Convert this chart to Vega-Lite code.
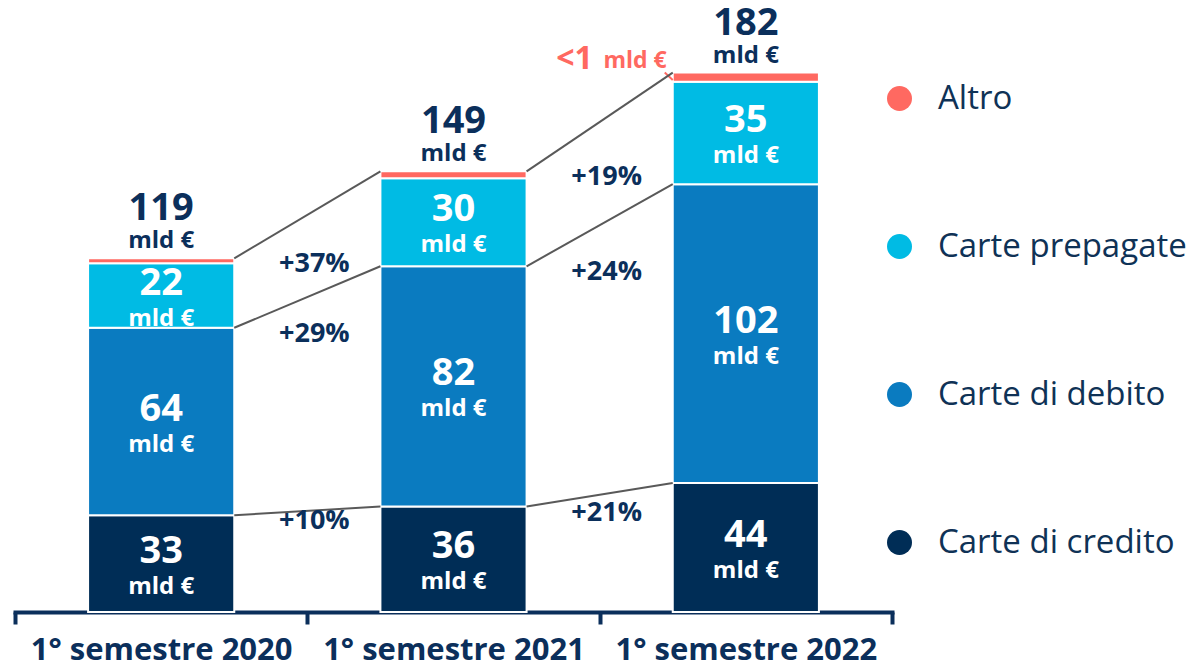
{
  "$schema": "https://vega.github.io/schema/vega-lite/v6.json",
  "width": 877,
  "height": 586,
  "autosize": {"type": "none"},
  "padding": {"left": 15, "top": 26, "right": 312, "bottom": 57},
  "background": "white",
  "config": {
    "view": {"stroke": null},
    "font": "Open Sans"
  },
  "datasets": {
    "main": [
      {"year": "1° semestre 2020", "cat": "Carte di credito", "v": 33, "ord": 1},
      {"year": "1° semestre 2020", "cat": "Carte di debito", "v": 64, "ord": 2},
      {"year": "1° semestre 2020", "cat": "Carte prepagate", "v": 22, "ord": 3},
      {"year": "1° semestre 2020", "cat": "Altro", "v": 1.7, "ord": 4},
      {"year": "1° semestre 2021", "cat": "Carte di credito", "v": 36, "ord": 1},
      {"year": "1° semestre 2021", "cat": "Carte di debito", "v": 82, "ord": 2},
      {"year": "1° semestre 2021", "cat": "Carte prepagate", "v": 30, "ord": 3},
      {"year": "1° semestre 2021", "cat": "Altro", "v": 2.4, "ord": 4},
      {"year": "1° semestre 2022", "cat": "Carte di credito", "v": 44, "ord": 1},
      {"year": "1° semestre 2022", "cat": "Carte di debito", "v": 102, "ord": 2},
      {"year": "1° semestre 2022", "cat": "Carte prepagate", "v": 35, "ord": 3},
      {"year": "1° semestre 2022", "cat": "Altro", "v": 3.1, "ord": 4}
    ],
    "tot": [
      {"year": "1° semestre 2020", "total": 119, "top": 120.7},
      {"year": "1° semestre 2021", "total": 149, "top": 150.4},
      {"year": "1° semestre 2022", "total": 182, "top": 184.1}
    ],
    "conn": [
      {"from": "1° semestre 2020", "to": "1° semestre 2021", "s0": 33, "s1": 36, "g": "+10%"},
      {"from": "1° semestre 2020", "to": "1° semestre 2021", "s0": 97, "s1": 118, "g": "+29%"},
      {"from": "1° semestre 2020", "to": "1° semestre 2021", "s0": 120.7, "s1": 150.4, "g": "+37%"},
      {"from": "1° semestre 2021", "to": "1° semestre 2022", "s0": 36, "s1": 44, "g": "+21%"},
      {"from": "1° semestre 2021", "to": "1° semestre 2022", "s0": 118, "s1": 146, "g": "+24%"},
      {"from": "1° semestre 2021", "to": "1° semestre 2022", "s0": 150.4, "s1": 184.1, "g": "+19%"}
    ]
  },
  "layer": [
    {
      "data": {"name": "main"},
      "mark": {"type": "bar", "stroke": "white", "strokeWidth": 2, "width": {"band": 0.5}},
      "encoding": {
        "x": {
          "field": "year", "type": "nominal",
          "scale": {"domain": ["1° semestre 2020", "1° semestre 2021", "1° semestre 2022"], "paddingInner": 0, "paddingOuter": 0},
          "axis": {
            "title": null, "labelAngle": 0, "labelFont": "Open Sans", "labelFontWeight": "bold",
            "labelFontSize": 31, "labelColor": "#0B2F5B", "labelLimit": 400, "labelPadding": 11,
            "domainColor": "#0B2F5B", "domainWidth": 4, "tickColor": "#0B2F5B", "tickWidth": 4,
            "tickSize": 12, "tickBand": "extent", "domainCap": "square"
          }
        },
        "y": {
          "field": "v", "type": "quantitative", "stack": "zero",
          "scale": {"domain": [0, 200], "nice": false},
          "axis": null
        },
        "color": {
          "field": "cat", "type": "nominal",
          "scale": {
            "domain": ["Altro", "Carte prepagate", "Carte di debito", "Carte di credito"],
            "range": ["#FF6961", "#00BBE4", "#0A7BC0", "#002D56"]
          },
          "legend": {
            "title": null, "orient": "none", "legendX": 868, "legendY": 56,
            "symbolType": "circle", "symbolSize": 625, "symbolStrokeWidth": 0, "symbolOpacity": 1,
            "labelFont": "Open Sans", "labelFontSize": 33, "labelColor": "#0F3256",
            "labelOffset": 22, "rowPadding": 114, "labelLimit": 400
          }
        },
        "order": {"field": "ord", "type": "quantitative"}
      }
    },
    {
      "data": {"name": "main"},
      "transform": [
        {"stack": "v", "groupby": ["year"], "sort": [{"field": "ord", "order": "ascending"}], "as": ["y0", "y1"]},
        {"filter": "datum.cat !== 'Altro'"},
        {"fold": ["y0", "y1"], "as": ["edge", "yy"]},
        {"aggregate": [{"op": "mean", "field": "yy", "as": "mid"}], "groupby": ["year", "cat", "v"]}
      ],
      "layer": [
        {
          "mark": {"type": "text", "color": "white", "fontSize": 38, "fontWeight": "bold", "baseline": "middle", "dy": -12},
          "encoding": {
            "x": {"field": "year", "type": "nominal"},
            "y": {"field": "mid", "type": "quantitative"},
            "text": {"field": "v", "type": "quantitative"}
          }
        },
        {
          "mark": {"type": "text", "color": "white", "fontSize": 24, "fontWeight": "bold", "baseline": "middle", "dy": 23},
          "encoding": {
            "x": {"field": "year", "type": "nominal"},
            "y": {"field": "mid", "type": "quantitative"},
            "text": {"value": "mld €"}
          }
        }
      ]
    },
    {
      "data": {"name": "tot"},
      "layer": [
        {
          "mark": {"type": "text", "color": "#0B2F5B", "fontSize": 38, "fontWeight": "bold", "baseline": "middle", "dy": -49},
          "encoding": {
            "x": {"field": "year", "type": "nominal"},
            "y": {"field": "top", "type": "quantitative"},
            "text": {"field": "total", "type": "quantitative"}
          }
        },
        {
          "mark": {"type": "text", "color": "#0B2F5B", "fontSize": 24, "fontWeight": "bold", "baseline": "middle", "dy": -17},
          "encoding": {
            "x": {"field": "year", "type": "nominal"},
            "y": {"field": "top", "type": "quantitative"},
            "text": {"value": "mld €"}
          }
        },
        {
          "transform": [{"filter": "datum.year === '1° semestre 2022'"}],
          "mark": {"type": "text", "color": "#FF6961", "fontSize": 23, "fontWeight": "bold", "baseline": "middle", "align": "right", "dx": -6, "dy": -12},
          "encoding": {
            "x": {"field": "year", "type": "nominal", "bandPosition": 0.25},
            "y": {"field": "top", "type": "quantitative"},
            "text": {"value": "mld €"}
          }
        },
        {
          "transform": [{"filter": "datum.year === '1° semestre 2022'"}],
          "mark": {"type": "text", "color": "#FF6961", "fontSize": 32, "fontWeight": "bold", "baseline": "middle", "align": "right", "dx": -80, "dy": -14},
          "encoding": {
            "x": {"field": "year", "type": "nominal", "bandPosition": 0.25},
            "y": {"field": "top", "type": "quantitative"},
            "text": {"value": "<1"}
          }
        },
        {
          "transform": [{"filter": "datum.year === '1° semestre 2022'"}],
          "mark": {"type": "rule", "color": "#FF6961", "strokeWidth": 2},
          "encoding": {
            "x": {"field": "year", "type": "nominal", "bandPosition": 0.2226},
            "x2": {"field": "year", "bandPosition": 0.25},
            "y": {"field": "top", "type": "quantitative"},
            "y2": {"datum": 181.6}
          }
        }
      ]
    },
    {
      "data": {"name": "conn"},
      "layer": [
        {
          "mark": {"type": "rule", "color": "#595959", "strokeWidth": 2},
          "encoding": {
            "x": {"field": "from", "type": "nominal", "bandPosition": 0.75},
            "x2": {"field": "to", "bandPosition": 0.25},
            "y": {"field": "s0", "type": "quantitative"},
            "y2": {"field": "s1"}
          }
        },
        {
          "mark": {"type": "text", "color": "#0B2F5B", "fontSize": 27, "fontWeight": "bold", "baseline": "middle", "dx": 7, "dy": 6},
          "encoding": {
            "x": {"field": "from", "type": "nominal", "bandPosition": 1},
            "y": {"field": "s0", "type": "quantitative"},
            "text": {"field": "g", "type": "nominal"}
          }
        }
      ]
    }
  ]
}
